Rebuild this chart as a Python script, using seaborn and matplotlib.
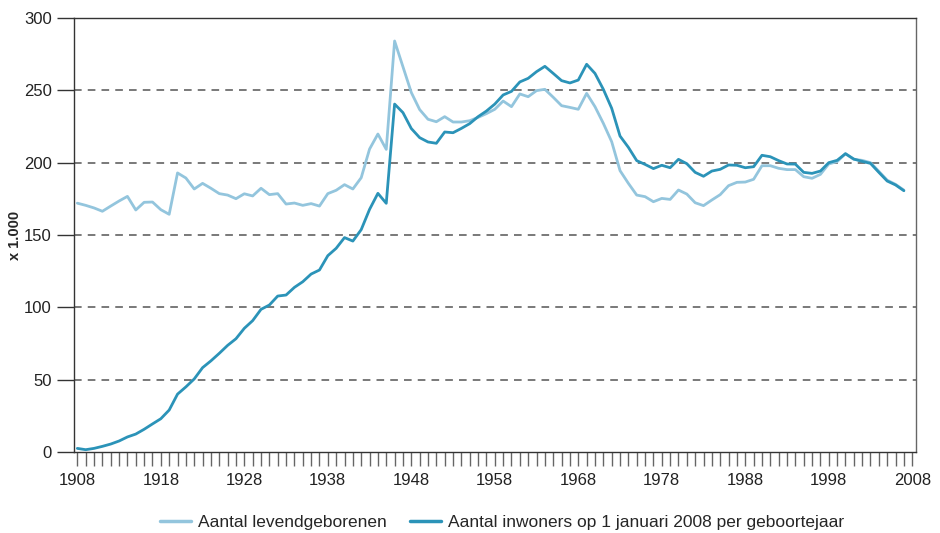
import numpy as np
import pandas as pd
import matplotlib
matplotlib.use("Agg")
import matplotlib.pyplot as plt
import seaborn as sns
from matplotlib.ticker import MultipleLocator

years = list(range(1908, 2008))

births = [172, 170.5, 168.7, 166.4, 170, 173.5, 176.7, 167.3, 172.6, 172.8,
          167.5, 164.3, 192.9, 189.4, 181.8, 185.7, 182.3, 178.6, 177.6, 175.1,
          178.5, 177, 182.3, 177.9, 178.6, 171.4, 172.1, 170.5, 171.7, 170,
          178.6, 180.9, 184.8, 181.8, 189.6, 209.4, 219.8, 209.2, 284.1, 266.3,
          248.5, 236.7, 230, 228.3, 231.8, 228.1, 228.1, 229, 231.3, 233.9,
          236.9, 242.6, 238.7, 247.5, 245.6, 249.8, 250.7, 245.2, 239.4, 238.2,
          236.9, 247.9, 238.7, 227.2, 214.5, 194.5, 185.7, 177.6, 176.5, 173,
          175.3, 174.6, 181.1, 178.3, 172.3, 170.3, 174.2, 177.9, 184.1, 186.4,
          186.6, 188.5, 197.9, 197.9, 196.1, 195.2, 195.2, 190.3, 189.2, 191.9,
          199.1, 200.7, 206.2, 202.3, 201.6, 200, 194, 187.9, 185, 181]

residents = [2.5, 1.6, 2.5, 3.9, 5.5, 7.6, 10.4, 12.4, 15.7, 19.4,
             23, 29, 40, 45, 50.5, 58.3, 63, 68.2, 73.7, 78.3,
             85.5, 90.8, 98.6, 101.6, 107.8, 108.5, 113.8, 117.7, 123, 125.8,
             135.7, 140.8, 148.2, 145.8, 153.7, 167.7, 178.8, 171.9, 240.5, 234.6,
             223.6, 217.3, 214.3, 213.4, 221.2, 220.7, 223.7, 227, 231.8, 235.7,
             240.5, 246.8, 249.3, 255.8, 258.3, 262.9, 266.6, 261.7, 256.7, 255.1,
             257.1, 268, 261.7, 250.7, 237.6, 218.4, 210.6, 201.4, 198.8, 195.9,
             198.2, 196.5, 202.3, 199.3, 193.3, 190.6, 194.2, 195.4, 198.4, 198.2,
             196.5, 197.2, 205.1, 204.1, 201.4, 199.1, 199, 193.3, 192.6, 194.2,
             200, 201.6, 206.2, 202.5, 200.9, 199.5, 193.3, 187.3, 184.6, 180.6]

label_births = "Aantal levendgeborenen"
label_res = "Aantal inwoners op 1 januari 2008 per geboortejaar"
ytick_vals = [0, 50, 100, 150, 200, 250, 300]
xtick_labels = list(range(1908, 2009, 10))

c_light = "#93C5DD"
c_dark = "#2B93B8"

df = pd.DataFrame({
    "jaar": years * 2,
    "aantal": births + residents,
    "reeks": [label_births] * len(years) + [label_res] * len(years),
})

sns.set_theme(style="white")
plt.rcParams["font.family"] = ["Liberation Sans", "DejaVu Sans"]

fig = plt.figure(figsize=(9.4, 5.33), dpi=100)
ax = fig.add_axes([74 / 940, 1 - 452 / 533, (916 - 74) / 940, (452 - 18) / 533])

sns.lineplot(data=df, x="jaar", y="aantal", hue="reeks",
             palette={label_births: c_light, label_res: c_dark},
             linewidth=2.0, ax=ax, legend=False, zorder=3)

ax.set_xlim(1907.6, 2008.45)
ax.set_ylim(0, 300)
ax.set_yticks(ytick_vals)
ax.set_yticklabels([str(v) for v in ytick_vals], fontsize=12, color="#222222")
ax.set_xticks(xtick_labels)
ax.set_xticklabels([str(v) for v in xtick_labels], fontsize=12, color="#222222",
                   family=["Liberation Sans Narrow", "Liberation Sans", "DejaVu Sans"])
ax.xaxis.set_minor_locator(MultipleLocator(1))
ax.tick_params(axis="x", which="both", direction="out", length=10, width=1,
               color="#666666", bottom=True, pad=5)
ax.tick_params(axis="y", which="major", direction="out", length=12, width=1,
               color="#333333", left=True, pad=4)

for v in ytick_vals[1:-1]:
    ax.axhline(v, color="#555555", linestyle=(0, (5, 4)), linewidth=1.1, zorder=1)

for s in ax.spines.values():
    s.set_visible(True)
    s.set_color("#333333")
    s.set_linewidth(1.0)
ax.spines["right"].set_color("#666666")

ax.set_xlabel("")
ax.set_ylabel("x 1.000", fontsize=10.5, fontweight="bold")
ax.yaxis.set_label_coords((22 - 74) / 842, 0.5)

handles = [plt.Line2D([], [], color=c_light, linewidth=2.5),
           plt.Line2D([], [], color=c_dark, linewidth=2.5)]
fig.legend(handles, [label_births, label_res], loc="center",
           bbox_to_anchor=(502 / 940, 1 - 522 / 533), ncol=2, frameon=False,
           fontsize=12.5, handlelength=1.8, handletextpad=0.4, columnspacing=1.3)

fig.savefig("out.png", dpi=100)
